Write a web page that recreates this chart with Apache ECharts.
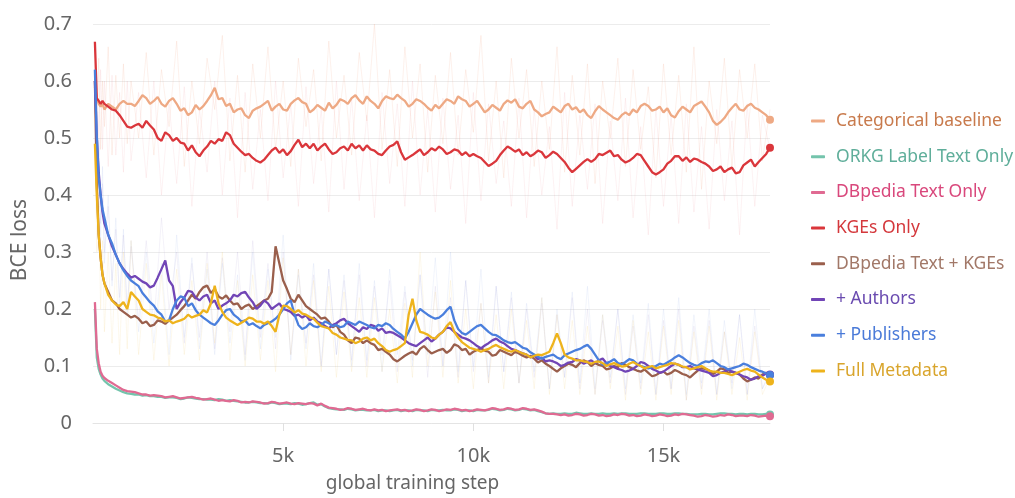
<!DOCTYPE html>
<html>
<head>
<meta charset="utf-8">
<script src="https://cdn.jsdelivr.net/npm/echarts@6/dist/echarts.min.js"></script>
<style>
html,body{margin:0;padding:0;background:#fff;}
#chart{width:1015px;height:498px;}
</style>
</head>
<body>
<div id="chart"></div>
<script>
// global training steps for the smoothed curves
const steps = [50,100,150,200,250,300,400,500,600,700,800,900,1000,
1100,1200,1300,1400,1500,1600,1700,1800,1900,2000,
2100,2200,2300,2400,2500,2600,2700,2800,2900,3000,
3100,3200,3300,3400,3500,3600,3700,3800,3900,4000,
4100,4200,4300,4400,4500,4600,4700,4800,4900,5000,
5100,5200,5300,5400,5500,5600,5700,5800,5900,6000,
6100,6200,6300,6400,6500,6600,6700,6800,6900,7000,
7100,7200,7300,7400,7500,7600,7700,7800,7900,8000,
8100,8200,8300,8400,8500,8600,8700,8800,8900,9000,
9100,9200,9300,9400,9500,9600,9700,9800,9900,10000,
10100,10200,10300,10400,10500,10600,10700,10800,10900,11000,
11100,11200,11300,11400,11500,11600,11700,11800,11900,12000,
12100,12200,12300,12400,12500,12600,12700,12800,12900,13000,
13100,13200,13300,13400,13500,13600,13700,13800,13900,14000,
14100,14200,14300,14400,14500,14600,14700,14800,14900,15000,
15100,15200,15300,15400,15500,15600,15700,15800,15900,16000,
16100,16200,16300,16400,16500,16600,16700,16800,16900,17000,
17100,17200,17300,17400,17500,17600,17700,17800];

// global training steps for the raw (unsmoothed) curves
const rawSteps = [50,100,150,200,250,300,400,500,600,700,800,900,1000,
1200,1400,1600,1800,2000,2200,2400,2600,2800,3000,
3200,3400,3600,3800,4000,4200,4400,4600,4800,5000,
5200,5400,5600,5800,6000,6200,6400,6600,6800,7000,
7200,7400,7600,7800,8000,8200,8400,8600,8800,9000,
9200,9400,9600,9800,10000,10200,10400,10600,10800,11000,
11200,11400,11600,11800,12000,12200,12400,12600,12800,13000,
13200,13400,13600,13800,14000,14200,14400,14600,14800,15000,
15200,15400,15600,15800,16000,16200,16400,16600,16800,17000,
17200,17400,17600,17800];

const xTicks = [5000,10000,15000];

// smoothed BCE loss
const categoricalBaseline = [0.59,0.57,0.56,0.555,0.56,0.55,0.56,0.555,0.55,0.56,0.565,0.56,0.56,
0.556,0.565,0.575,0.57,0.56,0.565,0.572,0.56,0.555,0.565,
0.57,0.56,0.548,0.552,0.54,0.545,0.558,0.55,0.556,0.565,
0.575,0.588,0.568,0.57,0.556,0.56,0.545,0.55,0.552,0.54,
0.535,0.548,0.552,0.555,0.56,0.565,0.548,0.555,0.56,0.55,
0.548,0.56,0.566,0.57,0.563,0.56,0.545,0.55,0.558,0.553,
0.548,0.562,0.552,0.558,0.568,0.565,0.56,0.57,0.575,0.566,
0.56,0.573,0.565,0.56,0.552,0.565,0.573,0.57,0.568,0.576,
0.57,0.565,0.555,0.56,0.568,0.565,0.56,0.553,0.548,0.558,
0.552,0.56,0.568,0.565,0.56,0.573,0.568,0.565,0.555,0.56,
0.565,0.555,0.545,0.55,0.558,0.553,0.548,0.56,0.566,0.562,
0.568,0.555,0.552,0.56,0.565,0.55,0.545,0.538,0.542,0.545,
0.555,0.55,0.545,0.556,0.56,0.55,0.554,0.545,0.55,0.54,
0.535,0.547,0.556,0.55,0.545,0.54,0.535,0.532,0.54,0.545,
0.54,0.55,0.545,0.556,0.56,0.556,0.548,0.55,0.555,0.545,
0.552,0.54,0.536,0.547,0.555,0.55,0.545,0.556,0.56,0.564,
0.555,0.545,0.53,0.523,0.528,0.535,0.545,0.553,0.56,0.55,
0.548,0.556,0.56,0.553,0.55,0.545,0.54,0.532];

const orkgLabelText = [0.2,0.115,0.095,0.085,0.078,0.074,0.068,0.064,0.06,0.057,0.054,0.052,0.051,
0.05,0.05,0.048,0.049,0.047,0.047,0.046,0.046,0.044,0.045,
0.045,0.044,0.042,0.043,0.045,0.044,0.043,0.042,0.042,0.041,
0.041,0.04,0.042,0.041,0.039,0.04,0.039,0.038,0.037,0.036,
0.036,0.037,0.036,0.035,0.035,0.034,0.036,0.035,0.033,0.034,
0.034,0.033,0.035,0.034,0.032,0.033,0.035,0.036,0.032,0.033,
0.029,0.026,0.025,0.024,0.024,0.023,0.025,0.024,0.022,0.023,
0.023,0.022,0.022,0.023,0.021,0.022,0.022,0.021,0.022,0.023,
0.021,0.022,0.022,0.021,0.023,0.022,0.022,0.021,0.023,0.022,
0.022,0.023,0.022,0.022,0.024,0.023,0.021,0.022,0.022,0.021,
0.023,0.022,0.022,0.023,0.025,0.024,0.022,0.023,0.025,0.024,
0.022,0.023,0.025,0.024,0.022,0.023,0.021,0.019,0.017,0.016,
0.017,0.016,0.016,0.017,0.016,0.016,0.018,0.017,0.016,0.016,
0.017,0.016,0.016,0.017,0.016,0.016,0.017,0.016,0.017,0.017,
0.016,0.016,0.016,0.017,0.017,0.016,0.016,0.016,0.017,0.017,
0.016,0.016,0.017,0.017,0.016,0.016,0.015,0.015,0.015,0.016,
0.016,0.015,0.015,0.016,0.017,0.017,0.016,0.016,0.015,0.016,
0.016,0.015,0.016,0.016,0.015,0.015,0.016,0.015];

const dbpediaText = [0.212,0.13,0.105,0.09,0.083,0.079,0.074,0.07,0.066,0.062,0.058,0.056,0.055,
0.054,0.052,0.05,0.05,0.048,0.049,0.048,0.047,0.045,0.046,
0.047,0.045,0.043,0.044,0.045,0.046,0.044,0.043,0.041,0.042,
0.043,0.041,0.039,0.04,0.039,0.038,0.04,0.039,0.036,0.037,
0.036,0.038,0.037,0.036,0.034,0.035,0.037,0.036,0.034,0.035,
0.036,0.034,0.033,0.035,0.034,0.033,0.035,0.034,0.031,0.034,
0.03,0.027,0.026,0.025,0.023,0.024,0.026,0.025,0.023,0.024,
0.025,0.023,0.022,0.024,0.022,0.023,0.021,0.022,0.023,0.024,
0.022,0.023,0.021,0.022,0.024,0.023,0.021,0.022,0.024,0.023,
0.021,0.022,0.024,0.023,0.025,0.024,0.022,0.023,0.021,0.022,
0.024,0.023,0.022,0.024,0.026,0.025,0.023,0.024,0.026,0.025,
0.023,0.024,0.026,0.025,0.023,0.024,0.022,0.02,0.017,0.016,
0.016,0.015,0.014,0.015,0.013,0.014,0.016,0.015,0.013,0.014,
0.016,0.015,0.013,0.014,0.012,0.013,0.015,0.014,0.016,0.015,
0.013,0.014,0.012,0.013,0.015,0.014,0.012,0.013,0.015,0.014,
0.012,0.013,0.015,0.014,0.016,0.015,0.014,0.013,0.011,0.012,
0.014,0.013,0.011,0.012,0.014,0.013,0.015,0.014,0.012,0.013,
0.013,0.012,0.014,0.013,0.011,0.012,0.013,0.012];

const kgesOnly = [0.669,0.57,0.565,0.56,0.565,0.56,0.555,0.55,0.548,0.54,0.53,0.52,0.518,
0.522,0.525,0.518,0.53,0.522,0.515,0.5,0.495,0.51,0.505,
0.495,0.5,0.492,0.49,0.478,0.487,0.475,0.468,0.478,0.485,
0.495,0.49,0.498,0.495,0.51,0.505,0.49,0.483,0.476,0.47,
0.472,0.465,0.46,0.457,0.462,0.47,0.478,0.483,0.474,0.48,
0.47,0.477,0.488,0.497,0.484,0.49,0.482,0.49,0.478,0.485,
0.49,0.48,0.472,0.475,0.482,0.485,0.478,0.49,0.482,0.487,
0.478,0.487,0.48,0.478,0.472,0.47,0.478,0.485,0.488,0.494,
0.475,0.462,0.466,0.47,0.475,0.48,0.47,0.475,0.482,0.478,
0.485,0.48,0.472,0.475,0.48,0.478,0.47,0.475,0.468,0.472,
0.468,0.465,0.458,0.451,0.455,0.46,0.47,0.478,0.485,0.481,
0.476,0.48,0.47,0.475,0.468,0.472,0.478,0.475,0.465,0.47,
0.476,0.472,0.465,0.458,0.448,0.44,0.446,0.452,0.458,0.463,
0.458,0.463,0.472,0.47,0.474,0.478,0.468,0.47,0.462,0.457,
0.46,0.465,0.472,0.47,0.46,0.45,0.44,0.436,0.44,0.445,
0.455,0.46,0.468,0.468,0.46,0.466,0.458,0.464,0.462,0.458,
0.455,0.45,0.442,0.445,0.45,0.44,0.445,0.448,0.438,0.44,
0.452,0.457,0.462,0.45,0.458,0.465,0.472,0.483];

const dbpediaTextKges = [0.6,0.42,0.33,0.29,0.26,0.245,0.23,0.215,0.21,0.2,0.195,0.19,0.185,
0.188,0.183,0.175,0.178,0.17,0.172,0.18,0.178,0.174,0.18,
0.185,0.19,0.198,0.205,0.215,0.225,0.218,0.23,0.238,0.241,
0.228,0.235,0.222,0.218,0.224,0.215,0.208,0.21,0.2,0.205,
0.208,0.2,0.205,0.21,0.215,0.218,0.23,0.31,0.28,0.25,
0.235,0.218,0.212,0.225,0.215,0.205,0.2,0.195,0.19,0.183,
0.185,0.178,0.168,0.172,0.16,0.155,0.145,0.14,0.15,0.148,
0.14,0.145,0.14,0.137,0.128,0.13,0.125,0.12,0.112,0.108,
0.113,0.118,0.122,0.125,0.12,0.13,0.135,0.128,0.122,0.125,
0.128,0.13,0.123,0.128,0.138,0.135,0.128,0.13,0.12,0.125,
0.128,0.131,0.127,0.125,0.118,0.12,0.128,0.125,0.122,0.119,
0.125,0.122,0.118,0.115,0.118,0.113,0.106,0.11,0.104,0.1,
0.095,0.09,0.096,0.1,0.104,0.102,0.098,0.105,0.11,0.107,
0.1,0.105,0.102,0.1,0.094,0.096,0.1,0.098,0.105,0.102,
0.098,0.095,0.092,0.09,0.094,0.088,0.082,0.084,0.088,0.09,
0.085,0.088,0.093,0.09,0.086,0.084,0.08,0.086,0.092,0.096,
0.095,0.092,0.086,0.09,0.096,0.094,0.088,0.09,0.088,0.085,
0.078,0.073,0.076,0.08,0.078,0.085,0.088,0.084];

const plusAuthors = [0.6,0.5,0.44,0.4,0.37,0.35,0.33,0.31,0.295,0.28,0.27,0.262,0.255,
0.258,0.253,0.248,0.245,0.238,0.241,0.255,0.27,0.285,0.25,
0.24,0.2,0.212,0.22,0.232,0.23,0.22,0.215,0.222,0.225,
0.21,0.215,0.2,0.206,0.21,0.215,0.225,0.222,0.228,0.23,
0.22,0.212,0.2,0.206,0.215,0.21,0.2,0.205,0.21,0.2,
0.198,0.195,0.188,0.19,0.185,0.189,0.18,0.185,0.178,0.175,
0.17,0.166,0.172,0.175,0.18,0.183,0.175,0.17,0.165,0.16,
0.168,0.165,0.172,0.17,0.162,0.166,0.158,0.16,0.158,0.154,
0.15,0.145,0.14,0.137,0.135,0.14,0.145,0.15,0.143,0.148,
0.155,0.16,0.168,0.166,0.16,0.155,0.15,0.148,0.145,0.14,
0.135,0.131,0.136,0.14,0.145,0.148,0.143,0.14,0.135,0.13,
0.128,0.125,0.122,0.12,0.115,0.119,0.112,0.115,0.108,0.11,
0.108,0.105,0.1,0.102,0.106,0.107,0.112,0.11,0.104,0.107,
0.11,0.105,0.11,0.113,0.105,0.1,0.098,0.095,0.093,0.09,
0.092,0.095,0.1,0.107,0.105,0.1,0.095,0.092,0.088,0.09,
0.095,0.1,0.104,0.102,0.098,0.098,0.1,0.096,0.094,0.092,
0.09,0.088,0.082,0.084,0.088,0.09,0.094,0.09,0.088,0.085,
0.082,0.08,0.076,0.078,0.082,0.083,0.087,0.085];

const plusPublishers = [0.62,0.5,0.43,0.4,0.375,0.36,0.33,0.315,0.295,0.28,0.268,0.258,0.25,
0.245,0.24,0.228,0.22,0.212,0.206,0.196,0.19,0.178,0.18,
0.2,0.215,0.222,0.22,0.205,0.21,0.198,0.19,0.185,0.18,
0.175,0.172,0.18,0.19,0.198,0.2,0.19,0.185,0.178,0.18,
0.172,0.175,0.17,0.166,0.172,0.175,0.178,0.183,0.19,0.2,
0.21,0.215,0.19,0.172,0.165,0.168,0.175,0.17,0.168,0.172,
0.178,0.175,0.17,0.172,0.168,0.17,0.178,0.175,0.172,0.178,
0.175,0.172,0.168,0.166,0.172,0.17,0.175,0.172,0.165,0.16,
0.155,0.148,0.16,0.175,0.19,0.2,0.195,0.19,0.186,0.183,
0.185,0.19,0.198,0.204,0.18,0.165,0.158,0.155,0.16,0.165,
0.17,0.172,0.166,0.16,0.155,0.154,0.15,0.145,0.142,0.14,
0.142,0.137,0.132,0.13,0.124,0.12,0.116,0.113,0.116,0.118,
0.12,0.115,0.112,0.119,0.122,0.125,0.128,0.13,0.134,0.137,
0.13,0.12,0.11,0.102,0.105,0.108,0.112,0.105,0.103,0.107,
0.112,0.11,0.104,0.1,0.098,0.096,0.098,0.1,0.104,0.102,
0.106,0.11,0.115,0.119,0.115,0.11,0.105,0.102,0.1,0.105,
0.108,0.107,0.11,0.105,0.1,0.098,0.094,0.096,0.098,0.1,
0.104,0.102,0.098,0.095,0.092,0.09,0.087,0.084];

const fullMetadata = [0.49,0.4,0.33,0.29,0.26,0.245,0.225,0.215,0.208,0.205,0.212,0.2,0.23,
0.222,0.215,0.2,0.195,0.19,0.189,0.185,0.183,0.178,0.18,
0.175,0.178,0.18,0.183,0.19,0.185,0.188,0.19,0.198,0.194,
0.21,0.241,0.21,0.195,0.185,0.18,0.176,0.172,0.176,0.18,
0.185,0.183,0.178,0.178,0.174,0.178,0.17,0.16,0.19,0.206,
0.205,0.2,0.194,0.198,0.192,0.19,0.186,0.183,0.176,0.17,
0.168,0.166,0.158,0.155,0.15,0.148,0.146,0.145,0.14,0.143,
0.148,0.15,0.145,0.148,0.14,0.135,0.128,0.125,0.128,0.13,
0.135,0.14,0.19,0.218,0.18,0.16,0.158,0.155,0.15,0.148,
0.155,0.16,0.17,0.177,0.16,0.15,0.142,0.137,0.132,0.13,
0.128,0.125,0.128,0.13,0.134,0.137,0.133,0.13,0.127,0.125,
0.128,0.125,0.122,0.12,0.115,0.118,0.12,0.119,0.122,0.125,
0.14,0.157,0.14,0.12,0.115,0.113,0.11,0.11,0.108,0.107,
0.104,0.107,0.108,0.105,0.1,0.103,0.105,0.102,0.099,0.1,
0.104,0.107,0.103,0.1,0.096,0.098,0.1,0.096,0.098,0.1,
0.102,0.105,0.104,0.102,0.099,0.098,0.094,0.096,0.098,0.1,
0.096,0.092,0.09,0.09,0.088,0.088,0.086,0.084,0.087,0.09,
0.093,0.095,0.092,0.09,0.085,0.08,0.076,0.073];

// raw (unsmoothed) BCE loss, drawn faintly
const rawBaseline = [0.62,0.5,0.64,0.48,0.6,0.52,0.66,0.47,0.61,0.5,0.63,0.49,0.6,
0.5,0.65,0.47,0.62,0.52,0.67,0.45,0.6,0.49,0.64,
0.55,0.68,0.46,0.61,0.44,0.63,0.5,0.66,0.48,0.6,
0.45,0.64,0.52,0.62,0.46,0.67,0.5,0.61,0.47,0.65,
0.53,0.7,0.48,0.62,0.45,0.66,0.5,0.63,0.44,0.61,
0.49,0.65,0.47,0.62,0.51,0.68,0.46,0.6,0.43,0.64,
0.5,0.62,0.45,0.6,0.48,0.66,0.44,0.61,0.47,0.63,
0.42,0.6,0.5,0.64,0.45,0.62,0.48,0.59,0.43,0.63,
0.47,0.61,0.44,0.66,0.41,0.6,0.49,0.64,0.45,0.62,
0.5,0.63,0.46,0.55];

const rawKges = [0.67,0.6,0.5,0.62,0.48,0.6,0.45,0.61,0.47,0.58,0.44,0.6,0.46,
0.58,0.43,0.6,0.4,0.56,0.42,0.59,0.38,0.55,0.44,
0.6,0.4,0.57,0.36,0.58,0.41,0.55,0.39,0.6,0.43,
0.56,0.38,0.59,0.42,0.55,0.37,0.6,0.41,0.57,0.39,
0.54,0.36,0.58,0.42,0.56,0.38,0.6,0.4,0.55,0.37,
0.57,0.41,0.54,0.35,0.58,0.39,0.56,0.42,0.53,0.38,
0.57,0.36,0.55,0.4,0.52,0.34,0.58,0.38,0.54,0.41,
0.56,0.35,0.53,0.39,0.57,0.36,0.52,0.33,0.55,0.38,
0.54,0.35,0.56,0.37,0.52,0.34,0.55,0.39,0.53,0.33,
0.56,0.38,0.54,0.48];

const rawAuthors = [0.6,0.45,0.5,0.35,0.42,0.3,0.38,0.25,0.34,0.22,0.33,0.2,0.31,
0.18,0.32,0.17,0.36,0.2,0.3,0.14,0.28,0.15,0.3,
0.13,0.29,0.16,0.3,0.12,0.32,0.15,0.28,0.13,0.3,
0.12,0.27,0.14,0.26,0.1,0.27,0.12,0.25,0.11,0.26,
0.1,0.24,0.12,0.25,0.09,0.23,0.11,0.26,0.08,0.24,
0.1,0.22,0.08,0.25,0.09,0.21,0.07,0.24,0.09,0.22,
0.07,0.2,0.08,0.21,0.06,0.19,0.08,0.22,0.06,0.2,
0.05,0.18,0.07,0.2,0.05,0.17,0.06,0.19,0.05,0.18,
0.06,0.2,0.04,0.17,0.06,0.18,0.05,0.16,0.07,0.19,
0.05,0.17,0.06,0.09];

const rawPublishers = [0.62,0.4,0.5,0.32,0.45,0.28,0.4,0.24,0.36,0.2,0.34,0.19,0.32,
0.16,0.3,0.14,0.28,0.12,0.33,0.15,0.29,0.13,0.27,
0.12,0.28,0.14,0.26,0.11,0.3,0.13,0.27,0.15,0.33,
0.11,0.26,0.13,0.28,0.1,0.27,0.12,0.26,0.1,0.28,
0.11,0.25,0.09,0.27,0.12,0.24,0.1,0.26,0.12,0.29,
0.1,0.3,0.09,0.25,0.1,0.27,0.08,0.24,0.09,0.23,
0.07,0.21,0.09,0.22,0.06,0.2,0.08,0.23,0.07,0.24,
0.06,0.19,0.08,0.2,0.06,0.19,0.07,0.21,0.05,0.2,
0.06,0.22,0.05,0.19,0.07,0.2,0.05,0.18,0.06,0.19,
0.05,0.2,0.06,0.09];

const rawFull = [0.49,0.3,0.38,0.2,0.32,0.16,0.3,0.14,0.28,0.12,0.3,0.13,0.32,
0.12,0.28,0.11,0.26,0.1,0.27,0.12,0.25,0.11,0.28,
0.14,0.3,0.11,0.25,0.1,0.26,0.11,0.25,0.09,0.29,
0.12,0.27,0.1,0.25,0.09,0.24,0.08,0.23,0.09,0.22,
0.08,0.22,0.09,0.2,0.07,0.21,0.08,0.3,0.1,0.23,
0.08,0.25,0.07,0.2,0.06,0.21,0.07,0.19,0.06,0.2,
0.07,0.18,0.06,0.22,0.05,0.19,0.06,0.18,0.05,0.17,
0.05,0.19,0.06,0.17,0.04,0.18,0.05,0.16,0.04,0.17,
0.05,0.18,0.04,0.16,0.05,0.17,0.04,0.16,0.05,0.15,
0.04,0.16,0.05,0.08];

const seriesNames = ['Categorical baseline','ORKG Label Text Only','DBpedia Text Only','KGEs Only',
  'DBpedia Text + KGEs','+ Authors','+ Publishers','Full Metadata'];
const seriesValues = [categoricalBaseline, orkgLabelText, dbpediaText, kgesOnly,
  dbpediaTextKges, plusAuthors, plusPublishers, fullMetadata];
const lineColors = ['#eea984','#74c4ac','#e06a92','#da363b','#9a5f4c','#7145b6','#4a7fdd','#eeb31c'];
const textColors = ['#c87a4c','#5fae9a','#d9487c','#d4383c','#a27868','#6a4bb0','#4a7ad8','#d9a52c'];

const rawSets = [
  {vals: rawBaseline, color: '#f2a58a', op: 0.16},
  {vals: rawKges, color: '#e8747a', op: 0.09},
  {vals: rawAuthors, color: '#9b8ac8', op: 0.11},
  {vals: rawPublishers, color: '#8aa6e0', op: 0.11},
  {vals: rawFull, color: '#f0c870', op: 0.13}
];

function toPoints(xs, vals){ return xs.map((s,i)=>[s, vals[i]]); }

const FONT = 'Noto Sans';
const lastIdx = steps.length - 1;

const series = [];
rawSets.forEach((r,i)=>{
  series.push({
    name: 'raw' + i, type: 'line', data: toPoints(rawSteps, r.vals), showSymbol: false,
    silent: true, z: 1,
    lineStyle: {width: 1, color: r.color, opacity: r.op},
    itemStyle: {color: r.color}
  });
});
seriesNames.forEach((n,i)=>{
  series.push({
    name: n, type: 'line', data: toPoints(steps, seriesValues[i]),
    symbol: 'circle',
    symbolSize: (v, p) => p.dataIndex === lastIdx ? 8 : 0,
    z: 3,
    lineStyle: {width: 2.3, color: lineColors[i]},
    itemStyle: {color: lineColors[i]}
  });
});

const chart = echarts.init(document.getElementById('chart'), null, {renderer: 'canvas'});
chart.setOption({
  backgroundColor: '#ffffff',
  animation: false,
  textStyle: {fontFamily: FONT},
  grid: {left: 93, right: 245, top: 24, bottom: 73, containLabel: false},
  legend: {
    orient: 'vertical', left: 806, top: 104,
    icon: 'roundRect', itemWidth: 14, itemHeight: 3, itemGap: 11.7,
    textStyle: {fontSize: 17.5, lineHeight: 24, fontFamily: FONT, padding: [0,0,0,6]},
    data: seriesNames.map((n,i)=>({name: n, textStyle: {color: textColors[i]}}))
  },
  xAxis: {
    type: 'value', min: 0, max: 17800, interval: 5000,
    name: 'global training step', nameLocation: 'middle', nameGap: 51,
    nameTextStyle: {fontSize: 19, color: '#666', fontFamily: FONT, padding: [0, 38, 0, 0]},
    axisLine: {show: true, lineStyle: {color: '#e4e4e4', width: 1}},
    axisTick: {show: true, length: 8, customValues: xTicks, lineStyle: {color: '#e0e0e0'}},
    axisLabel: {customValues: xTicks, formatter: v => (v/1000) + 'k', fontSize: 20, color: '#666', margin: 23, fontFamily: FONT},
    splitLine: {show: false}
  },
  yAxis: {
    type: 'value', min: 0, max: 0.7, interval: 0.1,
    name: 'BCE loss', nameLocation: 'middle', nameGap: 62, nameRotate: 90,
    nameTextStyle: {fontSize: 21, color: '#666', fontFamily: FONT, padding: [0, 33, 0, 0]},
    axisLine: {show: false}, axisTick: {show: false},
    axisLabel: {fontSize: 20, color: '#666', margin: 21, fontFamily: FONT,
      formatter: v => (Math.round(v*10)/10).toString()},
    splitLine: {lineStyle: {color: '#ececec', width: 1}}
  },
  series: series
});
</script>
</body>
</html>
